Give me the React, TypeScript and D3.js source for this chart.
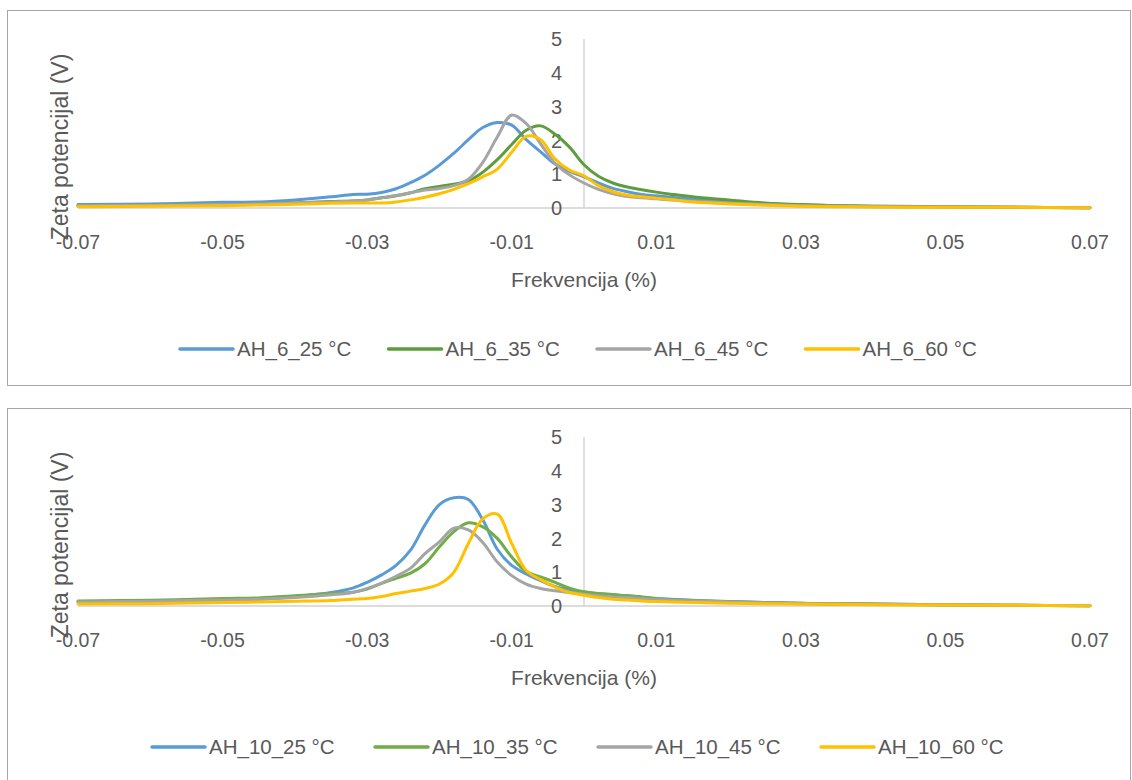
import React from "react";
import * as d3 from "d3";

// ---------- DATA ----------
const xValues = [
  -0.07, -0.06, -0.05, -0.045, -0.04, -0.035, -0.032, -0.03, -0.028, -0.026,
  -0.024, -0.022, -0.02, -0.018, -0.016, -0.014, -0.012, -0.01, -0.008, -0.006,
  -0.004, -0.002, 0, 0.002, 0.004, 0.006, 0.008, 0.01, 0.012, 0.015,
  0.02, 0.025, 0.03, 0.035, 0.04, 0.05, 0.06, 0.07,
];

const xTicks = [-0.07, -0.05, -0.03, -0.01, 0.01, 0.03, 0.05, 0.07];
const yTicks = [0, 1, 2, 3, 4, 5];

// Chart 1: AH_6
const ah6Names = ["AH_6_25 °C", "AH_6_35 °C", "AH_6_45 °C", "AH_6_60 °C"];
const ah6_25 = [
  0.10, 0.12, 0.17, 0.18, 0.24, 0.33, 0.40, 0.41, 0.46, 0.57,
  0.75, 0.97, 1.27, 1.62, 2.02, 2.38, 2.53, 2.45, 2.02, 1.66,
  1.30, 1.08, 0.92, 0.74, 0.58, 0.48, 0.40, 0.36, 0.32, 0.26,
  0.18, 0.12, 0.09, 0.07, 0.05, 0.04, 0.02, 0.01,
];
const ah6_35 = [
  0.07, 0.08, 0.10, 0.12, 0.15, 0.19, 0.21, 0.24, 0.30, 0.36,
  0.45, 0.57, 0.64, 0.70, 0.80, 1.06, 1.43, 1.88, 2.30, 2.43,
  2.18, 1.80, 1.28, 0.94, 0.74, 0.62, 0.54, 0.47, 0.41, 0.33,
  0.24, 0.15, 0.10, 0.07, 0.05, 0.04, 0.02, 0.01,
];
const ah6_45 = [
  0.07, 0.08, 0.10, 0.12, 0.15, 0.18, 0.21, 0.24, 0.30, 0.37,
  0.45, 0.53, 0.58, 0.66, 0.85, 1.35, 2.10, 2.75, 2.50, 1.90,
  1.32, 0.98, 0.74, 0.55, 0.42, 0.34, 0.30, 0.27, 0.24, 0.20,
  0.15, 0.10, 0.07, 0.05, 0.04, 0.03, 0.02, 0.01,
];
const ah6_60 = [
  0.04, 0.05, 0.07, 0.09, 0.11, 0.14, 0.15, 0.15, 0.15, 0.18,
  0.24, 0.32, 0.42, 0.55, 0.72, 0.92, 1.15, 1.65, 2.12, 2.02,
  1.45, 1.12, 0.95, 0.66, 0.48, 0.38, 0.33, 0.29, 0.25, 0.18,
  0.12, 0.08, 0.05, 0.04, 0.03, 0.02, 0.02, 0.01,
];

// Chart 2: AH_10
const ah10Names = ["AH_10_25 °C", "AH_10_35 °C", "AH_10_45 °C", "AH_10_60 °C"];
const ah10_25 = [
  0.12, 0.15, 0.18, 0.20, 0.28, 0.40, 0.53, 0.70, 0.92, 1.20,
  1.65, 2.40, 3.00, 3.20, 3.15, 2.55, 1.68, 1.20, 0.95, 0.75,
  0.58, 0.48, 0.41, 0.36, 0.33, 0.30, 0.26, 0.22, 0.20, 0.17,
  0.13, 0.10, 0.08, 0.07, 0.06, 0.04, 0.02, 0.01,
];
const ah10_35 = [
  0.15, 0.17, 0.22, 0.24, 0.30, 0.37, 0.41, 0.50, 0.67, 0.82,
  0.97, 1.25, 1.75, 2.20, 2.46, 2.34, 2.00, 1.45, 1.02, 0.86,
  0.70, 0.53, 0.42, 0.37, 0.34, 0.30, 0.27, 0.22, 0.19, 0.16,
  0.13, 0.10, 0.08, 0.07, 0.06, 0.04, 0.02, 0.01,
];
const ah10_45 = [
  0.12, 0.14, 0.18, 0.20, 0.25, 0.33, 0.40, 0.52, 0.68, 0.88,
  1.12, 1.55, 1.90, 2.30, 2.25, 1.88, 1.30, 0.90, 0.65, 0.52,
  0.45, 0.40, 0.35, 0.30, 0.27, 0.25, 0.22, 0.19, 0.17, 0.15,
  0.12, 0.09, 0.07, 0.06, 0.05, 0.03, 0.02, 0.01,
];
const ah10_60 = [
  0.06, 0.07, 0.10, 0.12, 0.14, 0.16, 0.20, 0.22, 0.28, 0.37,
  0.44, 0.52, 0.65, 1.00, 1.85, 2.58, 2.72, 1.85, 1.05, 0.78,
  0.56, 0.40, 0.32, 0.25, 0.20, 0.18, 0.15, 0.13, 0.12, 0.10,
  0.08, 0.07, 0.06, 0.05, 0.04, 0.03, 0.02, 0.01,
];

const colorsTop = ["#5B9BD5", "#5E9C3C", "#A5A5A5", "#FFC000"];
const colorsBottom = ["#5B9BD5", "#70AD47", "#A5A5A5", "#FFC000"];

// ---------- LAYOUT ----------
const W = 1132;
const H = 780;
const FONT = "'Liberation Sans', Arial, sans-serif";
const TEXT = "#595959";

type ChartProps = {
  top: number;
  names: string[];
  series: number[][];
  colors: string[];
  legendStart: number;
  legendStep: number;
};

function Chart({ top, names, series, colors, legendStart, legendStep }: ChartProps) {
  const x = d3.scaleLinear().domain([-0.07, 0.07]).range([78, 1090]);
  const y = d3.scaleLinear().domain([0, 5]).range([top + 198, top + 29]);
  const line = d3
    .line<[number, number]>()
    .x((d) => x(d[0]))
    .y((d) => y(d[1]))
    .curve(d3.curveCatmullRom.alpha(0.5));
  const x0 = x(0);
  const legendY = top + 339;

  return (
    <g>
      <rect x={7.5} y={top + 0.5} width={1123} height={375} fill="#fff" stroke="#A6A6A6" strokeWidth={1} />
      {/* axes */}
      <line x1={x(-0.07)} x2={x(0.07)} y1={y(0)} y2={y(0)} stroke="#D0D0D0" strokeWidth={1.3} />
      <line x1={x0} x2={x0} y1={y(5)} y2={y(0)} stroke="#D0D0D0" strokeWidth={1.3} />
      {yTicks.map((t) => (
        <text key={"y" + t} x={x0 - 22} y={y(t)} dy="0.36em" textAnchor="end" fontSize={20} fill={TEXT} fontFamily={FONT}>
          {t}
        </text>
      ))}
      {xTicks.map((t) => (
        <text key={"x" + t} x={x(t)} y={top + 239} textAnchor="middle" fontSize={19.5} fill={TEXT} fontFamily={FONT}>
          {d3.format(".2f")(t).replace("−", "-")}
        </text>
      ))}
      {/* series */}
      {series.map((s, i) => (
        <path
          key={"s" + i}
          d={line(xValues.map((xv, j) => [xv, s[j]] as [number, number])) || ""}
          fill="none"
          stroke={colors[i]}
          strokeWidth={3}
          strokeLinejoin="round"
          strokeLinecap="round"
        />
      ))}
      {/* titles */}
      <text x={x0} y={top + 277} textAnchor="middle" fontSize={21} fill={TEXT} fontFamily={FONT}>
        Frekvencija (%)
      </text>
      <text
        transform={`translate(68,${top + 137}) rotate(-90)`}
        textAnchor="middle"
        fontSize={23}
        fill={TEXT}
        fontFamily={FONT}
      >
        Zeta potencijal (V)
      </text>
      {/* legend */}
      {names.map((n, i) => {
        const lx = legendStart + i * legendStep;
        return (
          <g key={"l" + i}>
            <line x1={lx} x2={lx + 53} y1={legendY} y2={legendY} stroke={colors[i]} strokeWidth={3.5} strokeLinecap="round" />
            <text x={lx + 57} y={legendY} dy="0.36em" fontSize={20.5} fill={TEXT} fontFamily={FONT}>
              {n}
            </text>
          </g>
        );
      })}
    </g>
  );
}

export default function App() {
  return (
    <svg width={W} height={H} style={{ position: "absolute", left: 0, top: 0, background: "#fff" }}>
      <rect x={0} y={0} width={W} height={H} fill="#fff" />
      <Chart
        top={10}
        names={ah6Names}
        series={[ah6_25, ah6_35, ah6_45, ah6_60]}
        colors={colorsTop}
        legendStart={180}
        legendStep={208.5}
      />
      <Chart
        top={408}
        names={ah10Names}
        series={[ah10_25, ah10_35, ah10_45, ah10_60]}
        colors={colorsBottom}
        legendStart={152}
        legendStep={223}
      />
    </svg>
  );
}
